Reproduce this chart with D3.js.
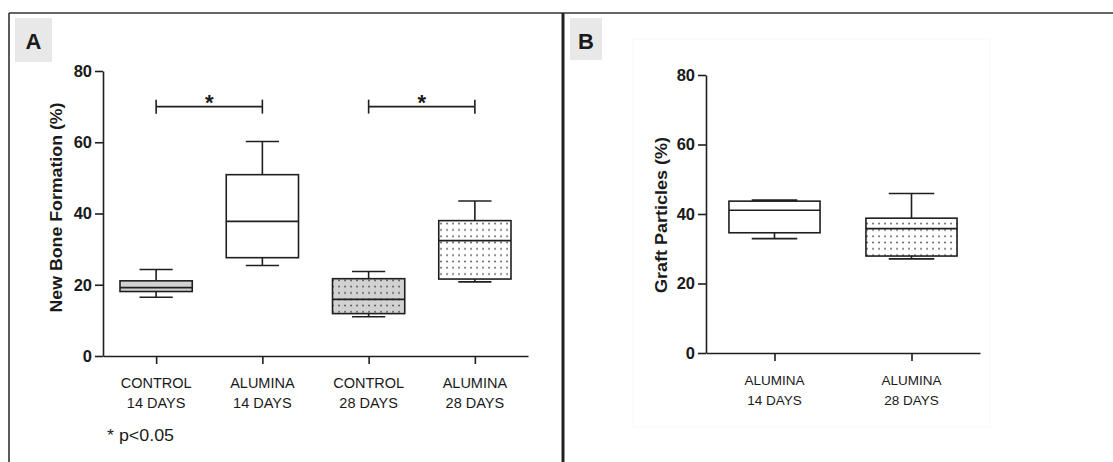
<!DOCTYPE html>
<html>
<head>
<meta charset="utf-8">
<script src="https://cdn.jsdelivr.net/npm/d3@7"></script>
<style>
  body { margin: 0; background: #fff; }
  text { font-family: "Liberation Sans", Arial, sans-serif; fill: #1a1a1a; }
</style>
</head>
<body>
<svg id="fig" width="1113" height="462"></svg>
<script>
// ---------------------------------------------------------------------------
// Data

// Panel A: new bone formation (%)
const groupsA = ["C14", "A14", "C28", "A28"];
const labelTopA = ["CONTROL", "ALUMINA", "CONTROL", "ALUMINA"];
const labelBotA = ["14 DAYS", "14 DAYS", "28 DAYS", "28 DAYS"];
const minA = [16.5, 25.4, 11.0, 20.8];
const q1A  = [18.1, 27.6, 11.9, 21.6];
const medA = [19.2, 37.8, 15.9, 32.4];
const q3A  = [21.1, 50.9, 21.7, 38.0];
const maxA = [24.3, 60.2, 23.7, 43.5];
const fillA = ["gray", "white", "gray", "white"];
const dotsA = [false, false, true, true];
// significance brackets [from, to, level]
const sigA = [["C14", "A14", 70], ["C28", "A28", 70]];

// Panel B: graft particles (%)
const groupsB = ["A14", "A28"];
const labelTopB = ["ALUMINA", "ALUMINA"];
const labelBotB = ["14 DAYS", "28 DAYS"];
const minB = [32.9, 27.1];
const q1B  = [34.6, 27.9];
const medB = [41.1, 35.8];
const q3B  = [43.7, 38.8];
const maxB = [44.0, 45.9];
const fillB = ["white", "white"];
const dotsB = [false, true];

const yTicks = [0, 20, 40, 60, 80];

// ---------------------------------------------------------------------------

const svg = d3.select("#fig");
const ink = "#1f1f1f";
const fills = { gray: "#d2d2d2", white: "#ffffff" };

// dot hatch patterns
const defs = svg.append("defs");
Object.keys(fills).forEach(k => {
    const p = defs.append("pattern")
        .attr("id", "dots-" + k)
        .attr("patternUnits", "userSpaceOnUse")
        .attr("width", 6).attr("height", 6.3);
    p.append("rect").attr("width", 6).attr("height", 6.3).attr("fill", fills[k]);
    p.append("rect").attr("x", 2.3).attr("y", 2.4).attr("width", 1.5).attr("height", 1.5).attr("fill", "#3a3a3a");
});

// frame and divider
svg.append("line").attr("x1", 9).attr("x2", 1113).attr("y1", 13).attr("y2", 13)
    .attr("stroke", "#333").attr("stroke-width", 1.6);
svg.append("line").attr("x1", 9).attr("x2", 9).attr("y1", 13).attr("y2", 462)
    .attr("stroke", "#333").attr("stroke-width", 1.6);
svg.append("line").attr("x1", 563).attr("x2", 563).attr("y1", 13).attr("y2", 462)
    .attr("stroke", "#222").attr("stroke-width", 3);

// faint image border inside panel B
svg.append("rect").attr("x", 633).attr("y", 39).attr("width", 357).attr("height", 388)
    .attr("fill", "none").attr("stroke", "#f8f8f8");

function panelLetter(letter, x, y, w, h) {
    svg.append("rect").attr("x", x).attr("y", y).attr("width", w).attr("height", h).attr("fill", "#e8e8e8");
    svg.append("text").attr("x", x + w / 2).attr("y", y + 31)
        .attr("text-anchor", "middle").attr("font-size", 22).attr("font-weight", "bold")
        .text(letter);
}
panelLetter("A", 15, 18, 37, 44);
panelLetter("B", 570, 18, 32, 42);

function drawPanel(cfg) {
    const g = svg.append("g");
    const x = d3.scalePoint().domain(cfg.groups).range(cfg.xr).padding(0.5);
    const y = d3.scaleLinear().domain([0, 80]).range(cfg.yr);
    const bw = x.step() * cfg.boxFrac;
    const cw = bw * cfg.capFrac;

    // y axis
    const ya = g.append("g").attr("transform", `translate(${cfg.xr[0]},0)`)
        .call(d3.axisLeft(y).tickValues(yTicks).tickSize(8).tickSizeOuter(0).tickPadding(3));
    ya.selectAll("text").attr("font-size", 16.5).attr("font-weight", "bold")
        .attr("font-family", "Liberation Sans, Arial, sans-serif").attr("fill", ink);

    // x axis
    g.append("g").attr("transform", `translate(0,${cfg.yr[0]})`)
        .call(d3.axisBottom(x).tickSize(8).tickSizeOuter(0).tickFormat(""));
    g.selectAll(".domain, .tick line").attr("stroke", ink).attr("stroke-width", 1.6);

    // two-line category labels
    cfg.groups.forEach((k, i) => {
        const t = g.append("text").attr("x", x(k)).attr("text-anchor", "middle")
            .attr("font-size", cfg.labelSize).attr("fill", ink);
        t.append("tspan").attr("x", x(k)).attr("y", cfg.labelY).text(cfg.top[i]);
        t.append("tspan").attr("x", x(k)).attr("y", cfg.labelY + 20).text(cfg.bot[i]);
    });

    // y title
    g.append("text")
        .attr("transform", `translate(${cfg.titleX},${(cfg.yr[0] + cfg.yr[1]) / 2 + cfg.titleDy}) rotate(-90)`)
        .attr("text-anchor", "middle").attr("font-size", 17).attr("font-weight", "bold")
        .attr("textLength", cfg.titleLen).attr("lengthAdjust", "spacingAndGlyphs")
        .text(cfg.title);

    // boxes
    cfg.groups.forEach((k, i) => {
        const cx = x(k);
        const bg = g.append("g").attr("stroke", ink).attr("stroke-width", 1.6);
        bg.append("line").attr("x1", cx).attr("x2", cx).attr("y1", y(cfg.max[i])).attr("y2", y(cfg.q3[i]));
        bg.append("line").attr("x1", cx).attr("x2", cx).attr("y1", y(cfg.min[i])).attr("y2", y(cfg.q1[i]));
        bg.append("line").attr("x1", cx - cw / 2).attr("x2", cx + cw / 2).attr("y1", y(cfg.max[i])).attr("y2", y(cfg.max[i]));
        bg.append("line").attr("x1", cx - cw / 2).attr("x2", cx + cw / 2).attr("y1", y(cfg.min[i])).attr("y2", y(cfg.min[i]));
        bg.append("rect").attr("x", cx - bw / 2).attr("width", bw)
            .attr("y", y(cfg.q3[i])).attr("height", y(cfg.q1[i]) - y(cfg.q3[i]))
            .attr("fill", cfg.dots[i] ? `url(#dots-${cfg.fill[i]})` : fills[cfg.fill[i]]);
        bg.append("line").attr("x1", cx - bw / 2).attr("x2", cx + bw / 2).attr("y1", y(cfg.med[i])).attr("y2", y(cfg.med[i]));
    });

    // significance brackets
    (cfg.sig || []).forEach(s => {
        const x1 = x(s[0]), x2 = x(s[1]), yy = y(s[2]);
        const sg = g.append("g").attr("stroke", ink).attr("stroke-width", 1.6);
        sg.append("line").attr("x1", x1).attr("x2", x2).attr("y1", yy).attr("y2", yy);
        sg.append("line").attr("x1", x1).attr("x2", x1).attr("y1", yy - 7).attr("y2", yy + 7);
        sg.append("line").attr("x1", x2).attr("x2", x2).attr("y1", yy - 7).attr("y2", yy + 7);
        g.append("text").attr("x", (x1 + x2) / 2).attr("y", yy + 3)
            .attr("text-anchor", "middle").attr("font-size", 22).attr("font-weight", "bold").text("*");
    });
}

drawPanel({
    groups: groupsA, top: labelTopA, bot: labelBotA,
    min: minA, q1: q1A, med: medA, q3: q3A, max: maxA,
    fill: fillA, dots: dotsA, sig: sigA,
    xr: [103, 528], yr: [356, 71], boxFrac: 0.68, capFrac: 0.46,
    labelY: 388, labelSize: 14.5,
    title: "New Bone Formation (%)", titleX: 62, titleDy: -6, titleLen: 210
});

drawPanel({
    groups: groupsB, top: labelTopB, bot: labelBotB,
    min: minB, q1: q1B, med: medB, q3: q3B, max: maxB,
    fill: fillB, dots: dotsB,
    xr: [706, 980], yr: [353, 75], boxFrac: 0.665, capFrac: 0.5,
    labelY: 385, labelSize: 13.5,
    title: "Graft Particles (%)", titleX: 667, titleDy: 1, titleLen: 156
});

// footnote
svg.append("text").attr("x", 107).attr("y", 441).attr("font-size", 16)
    .attr("textLength", 67).attr("lengthAdjust", "spacingAndGlyphs")
    .text("* p<0.05");
</script>
</body>
</html>
